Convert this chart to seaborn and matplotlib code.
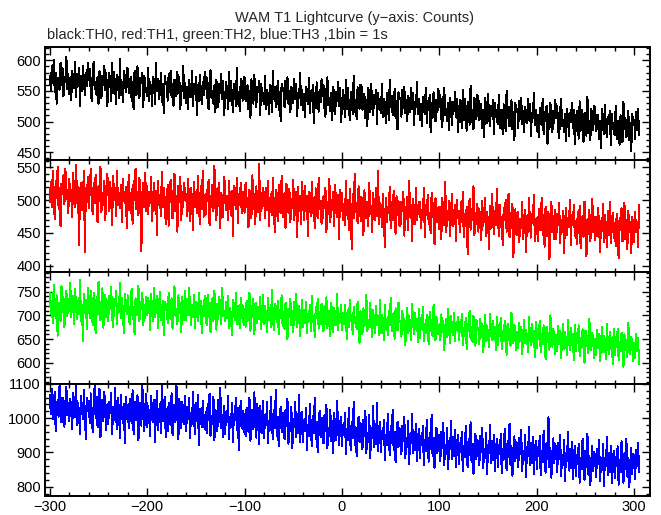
import numpy as np
import pandas as pd
import matplotlib
matplotlib.use('Agg')
import matplotlib.pyplot as plt
from matplotlib.ticker import MultipleLocator
import seaborn as sns

# ─── Data: counts per 1 s bin, starting at t = -300 s ────────────────────────

t_start = -300
bin_s = 1

th0 = [
    575, 551, 590, 562, 601, 548, 580, 529, 571, 566, 552, 596, 560, 588, 541, 573, 565, 606, 553, 578,
    545, 572, 535, 583, 567, 555, 598, 540, 577, 561, 587, 525, 574, 549, 591, 566, 543, 579, 558, 596,
    567, 586, 548, 534, 579, 598, 553, 564, 543, 573, 529, 582, 568, 538, 575, 560, 591, 551, 580, 525,
    552, 579, 564, 534, 595, 547, 581, 554, 529, 576, 569, 539, 602, 543, 563, 531, 583, 567, 548, 587,
    586, 547, 555, 573, 534, 564, 520, 583, 568, 543, 590, 551, 538, 571, 562, 580, 524, 575, 557, 549,
    541, 588, 534, 564, 556, 525, 573, 566, 529, 595, 550, 569, 537, 545, 580, 532, 561, 514, 575, 563,
    565, 534, 578, 548, 583, 540, 561, 526, 568, 556, 541, 581, 547, 572, 520, 558, 550, 591, 538, 563,
    530, 557, 520, 568, 552, 540, 583, 525, 562, 546, 572, 510, 559, 534, 576, 551, 528, 564, 543, 581,
    553, 572, 534, 520, 565, 584, 539, 550, 529, 559, 515, 568, 554, 524, 561, 546, 577, 537, 566, 511,
    538, 565, 550, 520, 581, 533, 567, 540, 515, 562, 555, 525, 588, 529, 549, 517, 569, 553, 534, 573,
    572, 533, 541, 559, 520, 550, 506, 569, 554, 529, 576, 537, 524, 557, 548, 566, 510, 561, 543, 535,
    528, 575, 521, 551, 543, 512, 560, 553, 516, 582, 537, 556, 524, 532, 567, 519, 548, 501, 562, 550,
    554, 523, 567, 537, 572, 529, 550, 515, 557, 545, 530, 570, 536, 561, 509, 547, 539, 580, 527, 552,
    518, 545, 508, 556, 540, 528, 571, 513, 550, 534, 560, 498, 547, 522, 564, 539, 516, 552, 531, 569,
    541, 560, 522, 508, 553, 572, 527, 538, 517, 547, 503, 556, 542, 512, 549, 534, 565, 525, 554, 499,
    525, 552, 537, 507, 568, 520, 554, 527, 502, 549, 542, 512, 575, 516, 536, 504, 556, 540, 521, 560,
    558, 519, 527, 545, 506, 536, 492, 555, 540, 515, 562, 523, 510, 543, 534, 552, 496, 547, 529, 521,
    514, 561, 507, 537, 529, 498, 546, 539, 502, 568, 523, 542, 510, 518, 553, 505, 534, 487, 548, 536,
    539, 508, 552, 522, 557, 514, 535, 500, 542, 530, 515, 555, 521, 546, 494, 532, 524, 565, 512, 537,
    502, 529, 492, 540, 524, 512, 555, 497, 534, 518, 544, 482, 531, 506, 548, 523, 500, 536, 515, 553,
    524, 543, 505, 491, 536, 555, 510, 521, 500, 530, 486, 539, 525, 495, 532, 517, 548, 508, 537, 482,
    508, 535, 520, 490, 551, 503, 537, 510, 485, 532, 525, 495, 558, 499, 519, 487, 539, 523, 504, 543,
    541, 502, 510, 528, 489, 519, 475, 538, 523, 498, 545, 506, 493, 526, 517, 535, 479, 530, 512, 504,
    496, 543, 489, 519, 511, 480, 528, 521, 484, 550, 505, 524, 492, 500, 535, 487, 516, 469, 530, 518,
    521, 490, 534, 504, 539, 496, 517, 482, 524, 512, 497, 537, 503, 528, 476, 514, 506, 547, 494, 519,
    484, 511, 474, 522, 506, 494, 537, 479, 516, 500, 526, 464, 513, 488, 530, 505, 482, 518, 497, 535,
    506, 525, 487, 473, 518, 537, 492, 503, 482, 512, 468, 521, 507, 477, 514, 499, 530, 490, 519, 464,
    490, 517, 502, 472, 533, 485, 519, 492, 467, 514, 507, 477, 540, 481, 501, 469, 521, 505, 486, 525,
    523, 484, 492, 510, 471, 501, 457, 520, 505, 480, 527, 488, 475, 508, 499, 517, 461, 512, 494, 486,
    478, 525, 471, 501, 493, 462, 510, 503, 466, 532, 487, 506, 474, 482, 517, 469, 498, 451, 512, 500,
    503, 472, 516, 486, 521, 478,
]

th1 = [
    497, 528, 490, 545, 512, 471, 530, 503, 551, 486, 519, 460, 525, 509, 538, 494, 548, 502, 515, 480,
    532, 499, 516, 474, 541, 508, 489, 553, 496, 520, 431, 512, 527, 485, 506, 544, 421, 518, 497, 535,
    488, 514, 547, 503, 479, 526, 495, 539, 510, 466, 522, 498, 551, 482, 511, 493, 530, 470, 517, 540,
    515, 483, 528, 499, 462, 537, 506, 519, 476, 545, 492, 511, 488, 524, 467, 533, 503, 495, 520, 458,
    493, 538, 505, 481, 517, 464, 529, 500, 548, 486, 513, 477, 534, 498, 422, 510, 527, 490, 541, 484,
    521, 479, 512, 496, 536, 468, 503, 527, 485, 514, 447, 530, 493, 508, 476, 543, 489, 519, 501, 463,
    487, 524, 461, 509, 531, 495, 472, 515, 540, 483, 506, 452, 522, 497, 535, 470, 512, 489, 527, 501,
    510, 476, 533, 494, 468, 519, 502, 455, 528, 490, 513, 481, 537, 499, 463, 521, 486, 545, 475, 508,
    478, 515, 499, 531, 462, 507, 489, 524, 483, 552, 496, 470, 518, 491, 527, 458, 511, 500, 474, 536,
    518, 485, 507, 469, 530, 495, 478, 514, 446, 522, 501, 487, 534, 465, 509, 492, 526, 480, 513, 497,
    481, 527, 490, 503, 459, 516, 498, 473, 538, 486, 509, 464, 521, 495, 482, 556, 470, 511, 488, 519,
    505, 472, 518, 485, 529, 461, 496, 510, 477, 534, 489, 452, 515, 499, 468, 523, 492, 480, 537, 476,
    474, 511, 458, 525, 493, 481, 517, 466, 502, 488, 531, 470, 497, 512, 443, 520, 484, 506, 463, 528,
    498, 469, 522, 483, 507, 445, 513, 491, 476, 528, 480, 503, 457, 518, 489, 472, 534, 486, 499, 464,
    472, 506, 488, 519, 451, 497, 479, 533, 467, 501, 485, 512, 460, 523, 490, 474, 508, 441, 516, 483,
    511, 470, 494, 462, 530, 478, 501, 455, 517, 486, 425, 509, 473, 540, 482, 496, 465, 521, 476, 505,
    468, 503, 447, 515, 484, 472, 498, 461, 526, 479, 491, 452, 511, 488, 470, 519, 476, 545, 463, 495,
    492, 459, 510, 474, 428, 503, 466, 489, 481, 520, 457, 497, 470, 514, 485, 449, 506, 477, 499, 462,
    461, 497, 483, 513, 446, 490, 471, 505, 455, 529, 475, 492, 438, 502, 480, 464, 518, 469, 487, 498,
    497, 458, 485, 469, 519, 444, 492, 477, 508, 463, 481, 450, 511, 474, 496, 433, 503, 480, 466, 489,
    456, 490, 441, 504, 475, 462, 528, 451, 483, 470, 499, 445, 486, 509, 460, 478, 493, 438, 501, 472,
    483, 451, 497, 466, 512, 443, 479, 461, 490, 418, 474, 502, 455, 486, 470, 521, 447, 481, 463, 495,
    452, 486, 470, 439, 499, 461, 477, 503, 445, 482, 466, 425, 491, 458, 509, 473, 448, 484, 462, 517,
    479, 445, 493, 459, 475, 431, 488, 470, 501, 452, 466, 510, 443, 481, 457, 495, 413, 472, 486, 449,
    447, 482, 436, 471, 458, 497, 440, 465, 485, 421, 476, 452, 504, 462, 443, 479, 468, 508, 437, 470,
    473, 438, 487, 454, 466, 503, 447, 478, 429, 490, 461, 445, 482, 410, 469, 497, 451, 476, 440, 485,
    441, 479, 462, 496, 435, 470, 452, 484, 420, 466, 488, 447, 473, 459, 501, 431, 477, 463, 492, 445,
    468, 433, 482, 450, 491, 427, 462, 476, 444, 498, 456, 415, 471, 448, 485, 437, 466, 502, 452, 475,
    439, 474, 446, 488, 458, 421, 469, 453, 495, 436, 478, 460, 429, 483, 447, 497, 434, 463, 481, 442,
    466, 430, 479, 449, 412, 473, 455, 488, 437, 462, 496, 441, 470, 425, 484, 452, 467, 419, 475, 458,
    436, 482, 451, 467, 428, 493,
]

th2 = [
    748, 703, 731, 684, 765, 712, 695, 742, 657, 726, 719, 688, 761, 706, 738, 675, 723, 752, 699, 734,
    710, 769, 697, 728, 740, 681, 755, 716, 692, 731, 703, 774, 688, 722, 645, 746, 709, 733, 672, 758,
    735, 694, 752, 708, 680, 747, 726, 663, 739, 701, 771, 715, 690, 728, 757, 674, 718, 744, 697, 730,
    689, 741, 713, 760, 698, 676, 734, 719, 752, 682, 725, 706, 768, 694, 737, 711, 663, 746, 720, 703,
    742, 705, 681, 727, 756, 693, 718, 660, 736, 712, 700, 762, 687, 729, 714, 748, 679, 722, 695, 739,
    701, 737, 722, 669, 745, 710, 688, 758, 696, 726, 741, 674, 713, 750, 690, 703, 731, 658, 728, 717,
    725, 684, 748, 707, 693, 736, 672, 719, 761, 699, 714, 681, 742, 704, 727, 665, 738, 712, 690, 752,
    690, 734, 701, 757, 716, 680, 722, 696, 744, 673, 729, 710, 688, 748, 703, 731, 662, 720, 699, 741,
    718, 679, 743, 697, 726, 664, 712, 736, 688, 751, 704, 670, 725, 692, 738, 715, 681, 757, 699, 710,
    687, 728, 695, 741, 674, 716, 700, 658, 732, 706, 690, 747, 681, 719, 703, 673, 736, 694, 721, 679,
    714, 676, 731, 689, 705, 748, 668, 720, 696, 734, 661, 709, 726, 684, 717, 693, 739, 672, 708, 742,
    681, 719, 702, 664, 737, 690, 715, 676, 753, 698, 669, 724, 706, 686, 731, 660, 711, 695, 742, 678,
    707, 671, 726, 688, 650, 714, 697, 735, 680, 709, 665, 728, 691, 745, 675, 702, 720, 656, 698, 733,
    676, 712, 684, 729, 662, 703, 691, 722, 668, 740, 685, 698, 655, 718, 694, 734, 672, 707, 681, 725,
    701, 667, 719, 682, 738, 673, 695, 710, 656, 727, 689, 664, 716, 698, 679, 745, 670, 703, 686, 721,
    669, 706, 681, 723, 693, 651, 712, 676, 733, 688, 701, 660, 718, 683, 697, 671, 729, 690, 642, 709,
    697, 661, 715, 677, 702, 744, 666, 690, 675, 727, 683, 654, 711, 688, 663, 720, 679, 698, 659, 733,
    662, 701, 684, 648, 722, 672, 693, 658, 710, 679, 736, 667, 689, 705, 651, 715, 681, 669, 727, 687,
    688, 655, 709, 670, 693, 637, 681, 716, 663, 699, 675, 649, 724, 684, 660, 706, 672, 692, 644, 713,
    653, 694, 671, 718, 645, 683, 662, 700, 676, 639, 708, 667, 690, 656, 722, 673, 648, 697, 681, 660,
    681, 648, 702, 664, 689, 627, 677, 693, 655, 714, 669, 641, 698, 674, 658, 706, 646, 685, 671, 697,
    647, 686, 665, 703, 638, 674, 657, 695, 629, 681, 668, 710, 650, 676, 644, 699, 663, 636, 691, 672,
    673, 640, 692, 654, 681, 622, 668, 700, 645, 677, 659, 633, 704, 662, 648, 689, 651, 675, 628, 697,
    638, 679, 657, 694, 630, 667, 646, 688, 661, 617, 683, 649, 672, 636, 705, 655, 642, 680, 664, 626,
    666, 632, 684, 647, 675, 618, 659, 690, 641, 670, 652, 623, 697, 655, 637, 681, 644, 668, 612, 687,
    631, 672, 650, 688, 622, 661, 640, 679, 654, 608, 676, 643, 664, 628, 700, 649, 634, 671, 657, 619,
    659, 625, 677, 640, 668, 611, 652, 683, 630, 665, 645, 616, 690, 648, 627, 674, 637, 661, 605, 680,
    624, 663, 642, 679, 614, 653, 632, 671, 646, 600, 668, 635, 656, 620, 692, 641, 627, 663, 649, 611,
    651, 617, 669, 632, 660, 603, 644, 675, 622, 657, 637, 608, 682, 640, 619, 666, 629, 653, 597, 672,
    616, 655, 634, 671, 606, 645, 624, 663, 638, 592, 660, 627, 648, 612, 684, 633, 619, 655, 641, 603,
    643, 610, 661, 624, 652, 598,
]

th3 = [
    1068, 1012, 1085, 998, 1041, 1076, 963, 1030, 1052, 1004, 1097, 1019, 987, 1060, 1033, 975, 1048, 1091, 1008, 1044,
    991, 1055, 1027, 968, 1073, 1036, 1002, 1099, 980, 1045, 1014, 952, 1066, 1025, 997, 1081, 1010, 939, 1058, 1031,
    1049, 986, 1072, 1020, 958, 1037, 1093, 1001, 1063, 974, 1029, 1086, 944, 1017, 1054, 990, 1076, 1008, 965, 1040,
    983, 1047, 1016, 1074, 952, 1031, 995, 1088, 1005, 969, 1059, 1022, 941, 1068, 1011, 987, 1042, 927, 1063, 998,
    1039, 972, 1057, 1013, 986, 1081, 954, 1026, 1048, 993, 1067, 935, 1018, 1044, 978, 1097, 1009, 962, 1034, 1071,
    975, 1036, 1003, 948, 1065, 1017, 989, 1052, 931, 1024, 1078, 966, 1008, 1041, 957, 1093, 992, 1029, 1061, 944,
    1028, 963, 1045, 1006, 979, 1072, 950, 1013, 1039, 987, 1098, 1002, 938, 1055, 1021, 970, 1047, 1011, 984, 1066,
    961, 1032, 998, 1058, 943, 1015, 983, 1077, 1004, 954, 1043, 990, 1068, 920, 1026, 1009, 973, 1050, 1001, 967,
    1019, 957, 1040, 995, 1071, 948, 1006, 982, 1063, 936, 1024, 1000, 961, 1052, 987, 1089, 972, 1010, 946, 1035,
    952, 1017, 989, 1066, 938, 1003, 975, 1045, 929, 1012, 993, 1058, 964, 1030, 908, 996, 1049, 971, 1022, 958,
    1013, 947, 1031, 986, 960, 1059, 934, 998, 1024, 968, 1075, 979, 943, 1040, 1001, 924, 1036, 990, 957, 1050,
    942, 1009, 981, 1047, 926, 993, 965, 1062, 984, 939, 1025, 970, 1081, 948, 1004, 917, 989, 1033, 960, 1015,
    1002, 939, 1023, 977, 1056, 925, 986, 961, 1034, 912, 997, 973, 1047, 944, 1011, 956, 1068, 930, 983, 1019,
    931, 995, 966, 1029, 907, 980, 949, 1041, 972, 918, 1006, 957, 1060, 938, 989, 901, 975, 1022, 944, 1001,
    987, 926, 1008, 963, 1039, 912, 971, 948, 1024, 934, 992, 899, 1016, 958, 935, 1051, 967, 920, 982, 1003,
    918, 979, 951, 1014, 895, 967, 935, 1030, 956, 908, 990, 942, 1047, 921, 973, 889, 960, 1004, 930, 985,
    972, 910, 996, 948, 1021, 899, 957, 931, 1008, 884, 969, 943, 1035, 916, 982, 925, 1043, 903, 951, 988,
    901, 964, 938, 995, 879, 952, 920, 1013, 943, 893, 976, 927, 1024, 906, 960, 871, 945, 989, 915, 970,
    956, 894, 978, 932, 1004, 883, 941, 915, 991, 866, 953, 928, 1012, 899, 961, 908, 984, 876, 935, 969,
    884, 947, 920, 978, 862, 935, 903, 996, 926, 873, 958, 910, 1009, 889, 942, 855, 929, 971, 898, 952,
    937, 875, 961, 913, 985, 864, 922, 896, 972, 850, 934, 909, 993, 880, 945, 889, 966, 858, 916, 950,
    866, 929, 902, 960, 845, 918, 885, 977, 908, 856, 940, 893, 988, 872, 925, 838, 911, 954, 881, 936,
    925, 862, 947, 901, 971, 853, 910, 884, 958, 836, 921, 897, 980, 869, 933, 877, 952, 845, 904, 939,
    858, 922, 894, 953, 839, 911, 879, 968, 900, 848, 933, 886, 984, 864, 918, 832, 905, 947, 874, 929,
    919, 857, 941, 895, 966, 846, 904, 878, 951, 829, 915, 890, 975, 862, 927, 870, 946, 838, 898, 933,
    851, 916, 889, 947, 833, 905, 872, 962, 893, 841, 927, 880, 1002, 857, 912, 826, 899, 941, 868, 924,
    903, 842, 927, 880, 952, 831, 889, 863, 937, 815, 899, 875, 960, 847, 911, 855, 930, 823, 883, 918,
    831, 894, 867, 925, 812, 884, 850, 940, 871, 820, 905, 858, 954, 835, 890, 805, 876, 919, 846, 901,
    889, 828, 911, 866, 937, 816, 874, 849, 924, 803, 885, 861, 945, 833, 898, 842, 919, 811, 869, 904,
    824, 887, 861, 918, 806, 877, 843, 932, 864, 812, 897, 851, 940, 829, 883, 798, 870, 912, 838, 895,
    886, 823, 907, 861, 928, 842,
]

series_names = ['TH0', 'TH1', 'TH2', 'TH3']
series_values = [th0, th1, th2, th3]
series_colors = ['black', 'red', '#00ff00', 'blue']

y_limits = [(438, 621), (391, 562), (556, 792), (773, 1100)]
y_ticks = [[450, 500, 550, 600], [400, 450, 500, 550],
           [600, 650, 700, 750], [800, 900, 1000, 1100]]
y_minor = [10, 10, 10, 20]

x_limits = (-305, 316)
x_ticks = [-300, -200, -100, 0, 100, 200, 300]

title = 'WAM T1 Lightcurve (y\u2212axis: Counts)'
subtitle = 'black:TH0, red:TH1, green:TH2, blue:TH3 ,1bin = 1s'

# ─── Plot ─────────────────────────────────────────────────────────────────────

sns.set_style('white')
plt.rcParams['font.family'] = ['Liberation Sans', 'DejaVu Sans']

fig, axes = plt.subplots(4, 1, sharex=True, figsize=(6.61, 5.15), dpi=100)
fig.subplots_adjust(left=0.068, right=0.983, bottom=0.037, top=0.908, hspace=0)

for ax, name, vals, color, ylim, yt, ym in zip(axes, series_names, series_values,
                                               series_colors, y_limits, y_ticks, y_minor):
    df = pd.DataFrame({'time': t_start + bin_s * np.arange(len(vals)),
                       'counts': vals})
    sns.lineplot(data=df, x='time', y='counts', ax=ax, color=color,
                 linewidth=0.72, estimator=None, antialiased=False)
    ax.set_xlim(*x_limits)
    ax.set_ylim(*ylim)
    ax.set_yticks(yt)
    ax.yaxis.set_minor_locator(MultipleLocator(ym))
    ax.set_xticks(x_ticks)
    ax.xaxis.set_minor_locator(MultipleLocator(20))
    ax.set_xlabel('')
    ax.set_ylabel('')
    ax.tick_params(which='both', direction='in', top=True, right=True,
                   bottom=True, left=True, color='black', width=1.0,
                   labelsize=10.5, labelcolor='black', pad=3)
    ax.tick_params(which='major', length=6)
    ax.tick_params(which='minor', length=3)
    for sp in ax.spines.values():
        sp.set_color('black')
        sp.set_linewidth(1.4)

fig.text(0.537, 0.965, title, ha='center', va='center', fontsize=10.5)
fig.text(0.071, 0.932, subtitle, ha='left', va='center', fontsize=10.5)

fig.savefig('out.png', dpi=100)
